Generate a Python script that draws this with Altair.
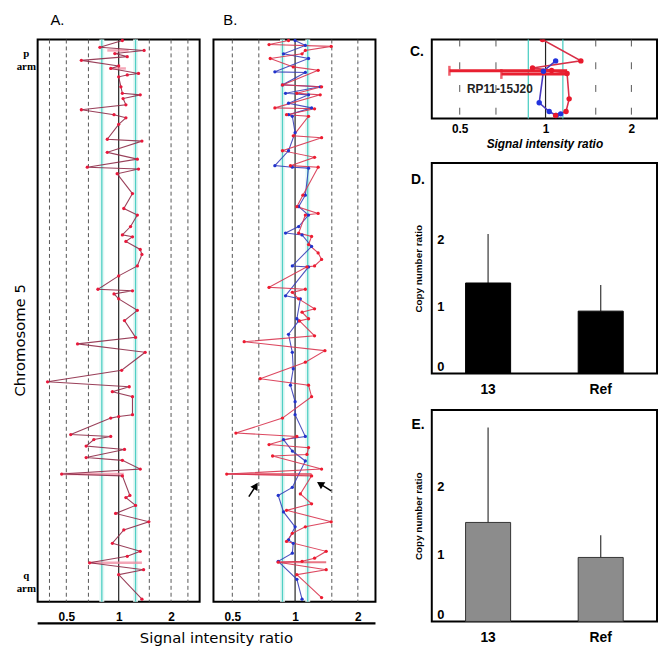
import altair as alt
import pandas as pd

# ---------------- Panel A: chromosome 5 profile (position, signal intensity ratio)
a_pos = [0.3, 2.5, 3.5, 4.5, 5.5, 6.7, 8.5, 9.3, 10.9, 11.4,
         12.0, 15.2, 17.3, 17.8, 19.0, 21.0, 22.6, 24.2, 25.2, 27.3,
         32.1, 32.7, 36.3, 38.5, 41.1, 41.7, 43.2, 49.6, 54.4, 56.5,
         60.2, 62.9, 63.5, 65.0, 67.6, 69.2, 72.9, 76.1, 80.4, 80.9,
         81.9, 83.5, 87.2, 90.5, 95.9, 98.0, 100.7, 106.5, 110.2, 111.8,
         113.4, 115.0, 120.8, 121.4, 121.9, 127.2, 127.8, 128.8, 130.9, 132.0,
         134.6, 135.5, 138.3, 139.9, 140.5, 146.8, 147.5, 150.0, 152.6, 155.3,
         157.9, 162.2, 164.8, 166.4, 168.5, 170.7, 172.3, 180.2]
a_ratio = [1.05, 0.78, 1.40, 0.95, 1.12, 0.61, 1.00, 0.90, 1.30, 1.12,
           1.00, 1.03, 1.05, 1.33, 1.06, 1.10, 0.61, 0.94, 1.10, 1.00,
           0.86, 1.36, 0.86, 1.28, 0.66, 1.30, 0.98, 1.20, 1.07, 1.28,
           1.17, 1.05, 1.20, 1.10, 1.33, 1.36, 1.28, 1.00, 0.76, 1.20,
           0.94, 1.00, 1.28, 1.08, 1.25, 0.58, 1.42, 1.04, 0.39, 1.15,
           0.92, 1.20, 1.20, 1.00, 0.90, 0.53, 0.90, 0.72, 0.65, 1.08,
           0.65, 1.05, 1.33, 0.47, 1.05, 1.16, 1.10, 1.25, 0.96, 1.49,
           1.07, 0.92, 1.33, 1.12, 0.68, 1.39, 1.00, 1.36]
a_err_pos = [3.5, 9.3, 139.9, 168.5]
a_err_low = [0.86, 0.90, 0.47, 0.68]
a_err_high = [1.14, 1.10, 1.07, 1.36]

# ---------------- Panel B: two hybridisations (red and blue)
b_red_pos = [0.3, 1.6, 2.2, 3.5, 4.6, 6.1, 8.8, 9.9, 14.6, 15.2,
             17.3, 17.8, 22.0, 22.3, 24.2, 24.7, 31.0, 31.6, 35.8, 37.9,
             40.6, 41.1, 50.1, 53.8, 56.0, 56.5, 62.3, 63.4, 66.0, 68.7,
             70.8, 72.9, 73.2, 79.8, 80.4, 81.4, 83.5, 86.7, 87.8, 89.9,
             90.6, 95.4, 97.3, 100.2, 103.9, 109.2, 111.3, 115.0, 121.9, 126.7,
             127.8, 130.4, 131.4, 133.6, 134.1, 138.3, 139.9, 140.5, 146.3, 149.5,
             151.6, 155.3, 156.9, 159.0, 161.6, 164.8, 167.0, 168.0, 168.3, 170.7,
             172.3, 179.7]
b_red_ratio = [0.93, 0.75, 1.49, 1.12, 1.08, 0.76, 0.98, 1.29, 0.87, 1.34,
               1.02, 1.32, 0.80, 1.24, 0.91, 1.16, 0.98, 1.34, 0.87, 1.24,
               0.95, 1.29, 1.09, 1.02, 1.29, 1.12, 1.04, 1.20, 1.16, 1.29,
               1.34, 1.24, 1.14, 0.75, 1.12, 0.97, 1.04, 1.24, 1.08, 1.16,
               1.05, 1.24, 0.57, 1.39, 1.12, 0.68, 1.16, 1.20, 0.87, 0.52,
               1.02, 0.75, 1.16, 1.14, 0.78, 1.34, 0.47, 1.20, 1.06, 1.20,
               0.91, 1.49, 1.12, 0.97, 0.91, 1.41, 1.24, 1.08, 0.83, 1.41,
               1.02, 1.34]
b_blue_pos = [0.3, 1.9, 4.6, 6.1, 10.4, 10.6, 14.6, 15.2, 17.3, 17.8,
              20.5, 22.0, 24.2, 24.7, 30.0, 35.8, 40.6, 41.1, 41.4, 50.1,
              53.8, 56.5, 60.2, 62.3, 62.9, 66.6, 72.9, 73.2, 82.5, 83.5,
              89.9, 90.6, 94.9, 100.7, 106.0, 111.3, 116.6, 120.8, 127.8, 128.8,
              132.5, 135.7, 144.2, 146.8, 152.1, 156.9, 161.1, 162.2, 165.4, 168.0,
              173.8, 180.2]
b_blue_ratio = [1.00, 1.12, 0.88, 1.16, 0.80, 1.12, 0.87, 1.32, 0.90, 1.16,
                0.93, 1.20, 0.93, 0.97, 1.00, 0.93, 0.80, 0.97, 1.16, 1.12,
                1.04, 1.16, 1.04, 0.90, 1.08, 1.20, 0.97, 1.16, 0.90, 1.06,
                1.02, 1.04, 0.93, 0.97, 0.98, 0.95, 1.00, 1.00, 1.12, 0.88,
                0.97, 1.12, 0.97, 0.83, 0.88, 1.00, 0.93, 0.98, 0.97, 0.83,
                1.02, 1.08]
b_err_pos = [139.9, 168.3]
b_err_low = [0.47, 0.83]
b_err_high = [1.20, 1.41]
b_arrow_tail_ratio = [0.60, 1.49]
b_arrow_tail_pos = [147.2, 145.3]
b_arrow_head_ratio = [0.648, 1.318]
b_arrow_head_pos = [143.7, 143.1]

# ---------------- Panel C: zoom on clone RP11-15J20
c_red_pos = [0.0, 2.7, 3.6, 3.9, 4.3, 7.5, 9.1, 9.6]
c_red_ratio = [0.975, 1.33, 0.90, 1.05, 1.19, 1.21, 1.18, 1.085]
c_blue_pos = [2.7, 4.0, 8.0, 9.1, 9.6, 9.4]
c_blue_ratio = [1.085, 0.983, 0.95, 1.03, 1.09, 1.13]
c_err_pos = [3.95, 4.35]
c_err_low = [0.46, 0.70]
c_err_high = [1.19, 1.19]
c_label = ["RP11-15J20"]
c_label_ratio = [0.53]
c_label_pos = [6.3]

# ---------------- reference lines
a_dashed = [0.4, 0.5, 0.67, 1.5, 2.0, 2.5]
a_cyan = [0.8, 1.25]
bc_dashed = [0.5, 0.67, 1.5, 2.0]
bc_cyan = [0.87, 1.15]
center_line = [1.0]
ratio_ticks = [0.5, 1, 2]
arm_ticks = [4.5, 172.5]

# ---------------- Panels D and E: copy number ratio
groups = ["13", "Ref"]
d_mean = [1.35, 0.93]
d_upper = [2.08, 1.32]
e_mean = [1.47, 0.95]
e_upper = [2.88, 1.28]

# ---------------- layout constants
W_AB, H_AB = 164, 569
W_R, H_C, H_D, H_E = 228, 80, 213, 214
FONT = "Liberation Sans"

pos_scale = alt.Scale(domain=[0, 181], reverse=True, nice=False)
xs_A = alt.Scale(type="log", domain=[0.342, 2.92], nice=False)
xs_B = alt.Scale(type="log", domain=[0.406, 2.43], nice=False)
xs_C = alt.Scale(type="log", domain=[0.399, 2.46], nice=False)


def ratio_axis():
    return alt.Axis(values=ratio_ticks, labelExpr="format(datum.value, '~g')", title=None,
                    domain=False, ticks=False, tickSize=0, grid=False, labelFont=FONT,
                    labelFontSize=12, labelFontWeight="bold", labelPadding=10,
                    labelColor="black", labelFlush=False)


def guide_layers(xs, axis, dashed, cyan, dash, band=True):
    layers = []
    if band:
        layers.append(alt.Chart(pd.DataFrame({"ratio": cyan})).mark_rule(
            color="#e4f7f5", strokeWidth=5).encode(x=alt.X("ratio:Q", scale=xs, axis=axis)))
    layers.append(alt.Chart(pd.DataFrame({"ratio": dashed})).mark_rule(
        color="#555555", strokeWidth=1, strokeDash=dash).encode(
        x=alt.X("ratio:Q", scale=xs, axis=axis)))
    layers.append(alt.Chart(pd.DataFrame({"ratio": cyan})).mark_rule(
        color="#4fcfc4", strokeWidth=1.3).encode(x=alt.X("ratio:Q", scale=xs, axis=axis)))
    layers.append(alt.Chart(pd.DataFrame({"ratio": center_line})).mark_rule(
        color="#222222", strokeWidth=1.2).encode(x=alt.X("ratio:Q", scale=xs, axis=axis)))
    return layers


def series(pos, ratio, xs, axis, yaxis, line_color, point_color, width=1.1):
    df = pd.DataFrame({"pos": pos, "ratio": ratio, "idx": list(range(len(pos)))})
    base = alt.Chart(df).encode(
        x=alt.X("ratio:Q", scale=xs, axis=axis),
        y=alt.Y("pos:Q", scale=pos_scale, axis=yaxis),
        order="idx:Q")
    line = base.mark_line(color=line_color, strokeWidth=width, opacity=0.9)
    pts = base.mark_circle(color=point_color, size=11, opacity=1)
    return line, pts


def errbars(pos, lo, hi, xs, axis, yaxis, color, w):
    df = pd.DataFrame({"pos": pos, "lo": lo, "hi": hi})
    return alt.Chart(df).mark_rule(color=color, strokeWidth=w, opacity=0.75).encode(
        x=alt.X("lo:Q", scale=xs, axis=axis), x2="hi:Q",
        y=alt.Y("pos:Q", scale=pos_scale, axis=yaxis))


def letter(txt, x, y, size=15, weight="normal"):
    return alt.Chart(pd.DataFrame({"t": [txt]})).mark_text(
        font=FONT, fontSize=size, fontWeight=weight, color="black",
        align="center", baseline="middle").encode(
        text="t:N", x=alt.value(x), y=alt.value(y))


# ---------------- Panel A
axA = ratio_axis()
yaxA = alt.Axis(values=arm_ticks,
                labelExpr="datum.value < 90 ? ['p', 'arm'] : ['q', 'arm']",
                title="Chromosome 5", titleFont="DejaVu Sans", titleFontSize=15,
                titleFontWeight="normal", titleX=-18, titleY=304, titleAngle=-90,
                titleAlign="center", titleBaseline="middle", titleColor="black",
                domain=False, ticks=False, tickSize=0, grid=False,
                labelFont="Liberation Serif", labelFontSize=11, labelFontWeight="bold",
                labelAlign="center", labelBaseline="middle", labelPadding=12,
                labelLineHeight=13, labelColor="black", labelFlush=False)
a_line, a_pts = series(a_pos, a_ratio, xs_A, axA, yaxA, "#8e2b48", "#e8193c")
a_err = errbars(a_err_pos, a_err_low, a_err_high, xs_A, axA, yaxA, "#f08aa0", 2.5)
bottom_rule = alt.Chart(pd.DataFrame({"k": [0]})).mark_rule(
    color="black", strokeWidth=2.5).encode(
    x=alt.value(0), x2=alt.value(2 * W_AB + 14), y=alt.value(H_AB + 22))
bottom_title = alt.Chart(pd.DataFrame({"t": ["Signal intensity ratio"]})).mark_text(
    font="DejaVu Sans", fontSize=15, color="black", align="center",
    baseline="middle").encode(text="t:N", x=alt.value(181), y=alt.value(H_AB + 37))

panel_a = alt.layer(
    *guide_layers(xs_A, axA, a_dashed, a_cyan, [4, 3]),
    a_err, a_line, a_pts, bottom_rule, bottom_title,
    letter("A.", 20, -20),
).properties(width=W_AB, height=H_AB)

# ---------------- Panel B
axB = ratio_axis()
bb_line, bb_pts = series(b_blue_pos, b_blue_ratio, xs_B, axB, None, "#3a3fb8", "#2233cc")
br_line, br_pts = series(b_red_pos, b_red_ratio, xs_B, axB, None, "#d8344f", "#ee1c30")
b_err = errbars(b_err_pos, b_err_low, b_err_high, xs_B, axB, None, "#e0485c", 2)
arrow_df = pd.DataFrame({"tr": b_arrow_tail_ratio, "tp": b_arrow_tail_pos,
                         "hr": b_arrow_head_ratio, "hp": b_arrow_head_pos})
arrow_shaft = alt.Chart(arrow_df).mark_rule(color="black", strokeWidth=1.5).encode(
    x=alt.X("tr:Q", scale=xs_B, axis=axB), x2="hr:Q",
    y=alt.Y("tp:Q", scale=pos_scale, axis=None), y2="hp:Q")
head_left = alt.Chart(arrow_df.iloc[[0]]).mark_point(
    shape="triangle-up", filled=True, color="black", size=70, angle=32, opacity=1).encode(
    x=alt.X("hr:Q", scale=xs_B, axis=axB), y=alt.Y("hp:Q", scale=pos_scale, axis=None))
head_right = alt.Chart(arrow_df.iloc[[1]]).mark_point(
    shape="triangle-up", filled=True, color="black", size=70, angle=302, opacity=1).encode(
    x=alt.X("hr:Q", scale=xs_B, axis=axB), y=alt.Y("hp:Q", scale=pos_scale, axis=None))

panel_b = alt.layer(
    *guide_layers(xs_B, axB, bc_dashed, bc_cyan, [4, 3]),
    b_err, bb_line, br_line, bb_pts, br_pts, arrow_shaft, head_left, head_right,
    letter("B.", 17, -20),
).properties(width=W_AB, height=H_AB)

# ---------------- Panel C
axC = alt.Axis(values=ratio_ticks, labelExpr="format(datum.value, '~g')",
               title="Signal intensity ratio", titleFont=FONT, titleFontSize=12,
               titleFontWeight="bold", titleFontStyle="italic", titlePadding=4,
               titleColor="black", domain=False, ticks=False, tickSize=0, grid=False,
               labelFont=FONT, labelFontSize=12, labelFontWeight="bold", labelPadding=5,
               labelColor="black", labelFlush=False)
c_pos_scale = alt.Scale(domain=[0, 10], reverse=True, nice=False)


def c_series(pos, ratio, line_color, point_color):
    df = pd.DataFrame({"pos": pos, "ratio": ratio, "idx": list(range(len(pos)))})
    base = alt.Chart(df).encode(
        x=alt.X("ratio:Q", scale=xs_C, axis=axC),
        y=alt.Y("pos:Q", scale=c_pos_scale, axis=None), order="idx:Q")
    return (base.mark_line(color=line_color, strokeWidth=1.6, clip=True),
            base.mark_circle(color=point_color, size=30, opacity=1, clip=True))


cb_line, cb_pts = c_series(c_blue_pos, c_blue_ratio, "#4a3ac0", "#2233dd")
cr_line, cr_pts = c_series(c_red_pos, c_red_ratio, "#d83048", "#e8192c")
c_err_df = pd.DataFrame({"pos": c_err_pos, "lo": c_err_low, "hi": c_err_high})
c_err = alt.Chart(c_err_df).mark_rule(color="#e82030", strokeWidth=3).encode(
    x=alt.X("lo:Q", scale=xs_C, axis=axC), x2="hi:Q",
    y=alt.Y("pos:Q", scale=c_pos_scale, axis=None))
c_caps = alt.Chart(c_err_df).mark_tick(color="#e82030", thickness=2.5, size=10,
                                       orient="vertical").encode(
    x=alt.X("lo:Q", scale=xs_C, axis=axC), y=alt.Y("pos:Q", scale=c_pos_scale, axis=None))
c_text = alt.Chart(pd.DataFrame({"t": c_label, "ratio": c_label_ratio, "pos": c_label_pos})
                   ).mark_text(font=FONT, fontSize=12, fontWeight="bold", color="#222222",
                               align="left", baseline="middle").encode(
    x=alt.X("ratio:Q", scale=xs_C, axis=axC), y=alt.Y("pos:Q", scale=c_pos_scale, axis=None),
    text="t:N")

panel_c = alt.layer(
    *guide_layers(xs_C, axC, bc_dashed, bc_cyan, [7, 16], band=False),
    cr_line, cb_line, c_err, c_caps, cb_pts, cr_pts, c_text,
    letter("C.", -15, 13, 14, "bold"),
).properties(width=W_R, height=H_C)


# ---------------- Panels D and E
def bar_panel(means, uppers, fill, stroke, height, tag, tag_y):
    df = pd.DataFrame({"cat": groups, "mean": means, "upper": uppers})
    xenc = alt.X("cat:N", sort=groups,
                 scale=alt.Scale(paddingInner=0.6, paddingOuter=0.3),
                 axis=alt.Axis(title=None, labelAngle=0, domain=False, ticks=False,
                               tickSize=0, labelFont=FONT, labelFontSize=14,
                               labelFontWeight="bold", labelPadding=9,
                               labelColor="black"))
    yaxis = alt.Axis(values=[0, 1, 2], title="Copy number ratio", titleFont=FONT,
                     titleFontSize=10, titleFontWeight="bold", titleColor="black",
                     titleX=-13, titleY=height / 2, titleAngle=-90, titleAlign="center",
                     titleBaseline="middle", domain=False, ticks=False, tickSize=0,
                     grid=False, labelAlign="left", labelPadding=-5, labelFont=FONT,
                     labelFontSize=13, labelFontWeight="bold", labelColor="black",
                     labelFlush=True)
    yenc = alt.Y("mean:Q", scale=alt.Scale(domain=[0, 3.14], nice=False), axis=yaxis)
    bars = alt.Chart(df).mark_bar(color=fill, stroke=stroke, strokeWidth=1).encode(
        x=xenc, y=yenc)
    err = alt.Chart(df).mark_rule(color="#444444", strokeWidth=1.3).encode(
        x=xenc, y=yenc, y2="upper:Q")
    return alt.layer(err, bars, letter(tag, -14, tag_y, 14, "bold")).properties(
        width=W_R, height=height)


panel_d = bar_panel(d_mean, d_upper, "#000000", "#000000", H_D, "D.", 17)
panel_e = bar_panel(e_mean, e_upper, "#8c8c8c", "#333333", H_E, "E.", 15)

left = alt.hconcat(panel_a, panel_b, spacing=14, bounds="flush")
right = alt.vconcat(panel_c, panel_d, panel_e, spacing=12)

chart = alt.hconcat(left, right, spacing=31).properties(
    padding={"left": 4, "top": 0, "right": 0, "bottom": 0},
    background="white",
).configure(font=FONT, view=alt.ViewConfig(stroke="black", strokeWidth=2))

chart.save("out.html", embed_options={"renderer": "svg", "actions": False})
